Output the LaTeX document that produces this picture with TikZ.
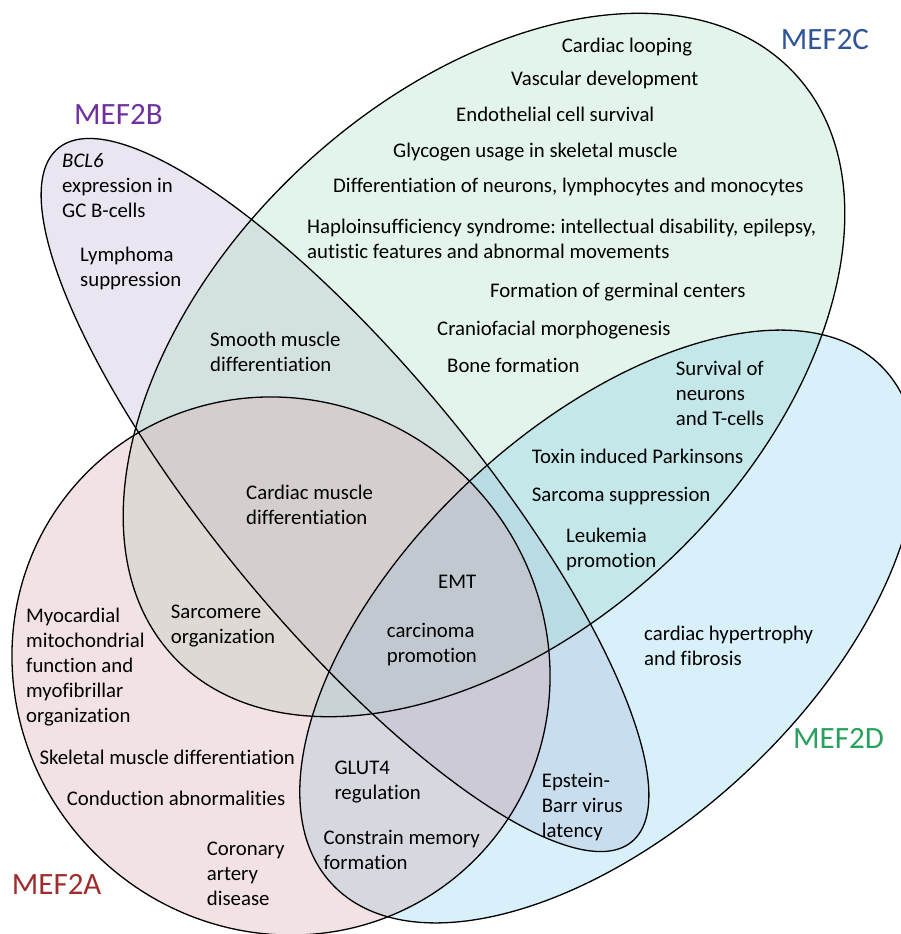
\documentclass[tikz,border=0pt]{standalone}
\usepackage{fontspec}
\setmainfont{Carlito}[Ligatures=NoCommon]
\usepackage{tikz}
\usetikzlibrary{calc}
\definecolor{mefAfill}{RGB}{212,158,162}
\definecolor{mefBfill}{RGB}{182,172,208}
\definecolor{mefCfill}{RGB}{162,218,188}
\definecolor{mefDfill}{RGB}{125,205,235}
\definecolor{mefAtext}{RGB}{158,45,45}
\definecolor{mefBtext}{RGB}{112,48,160}
\definecolor{mefCtext}{RGB}{47,85,151}
\definecolor{mefDtext}{RGB}{41,160,93}
\def\vennshape[#1](#2)(#3:#4:#5){\path[#1, shift={(#2)}, rotate=#3] (0,0) ellipse [x radius=#4pt, y radius=#5pt];}
\tikzset{
  setfill/.style={fill=#1, fill opacity=0.3},
  setline/.style={draw=black, line width=1.3pt},
  item/.style={anchor=base west, inner sep=0pt, align=left, font=\fontsize{20.8}{25}\selectfont},
  setname/.style={anchor=base west, inner sep=0pt, font=\fontsize{31}{37}\selectfont, text=#1},
}
\frenchspacing

\begin{document}
\begin{tikzpicture}[x=1pt, y=1pt]
	%%%%% START %%%%%
	\useasboundingbox (0,0) rectangle (900,-934);
	
	\coordinate (A) at (281,-666);
	\coordinate (B) at (345,-495);
	\coordinate (C) at (484,-365);
	\coordinate (D) at (608,-626.5);
	
	% fills first (B, C, D, A), outlines on top
	\vennshape[setfill=mefBfill](B)(-50.4:450:130)
	\vennshape[setfill=mefCfill](C)(43.3:426:269)
	\vennshape[setfill=mefDfill](D)(43:377.5:200.7)
	\vennshape[setfill=mefAfill](A)(-45:274:264)
	
	\vennshape[setline](B)(-50.4:450:130)
	\vennshape[setline](C)(43.3:426:269)
	\vennshape[setline](D)(43:377.5:200.7)
	\vennshape[setline](A)(-45:274:264)
	
	% MEF2C (multi-line nodes sit on their last baseline)
	\node[item] (looping) at (561.7,-52.7) {Cardiac looping};
	\node[item] (vascular) at (511,-85.5) {Vascular development};
	\node[item] (endothelial) at (456,-121.7) {Endothelial cell survival};
	\node[item] (glycogen) at (393,-157) {Glycogen usage in skeletal muscle};
	\node[item] (neurons) at (333,-192.7) {Differentiation of neurons, lymphocytes and monocytes};
	\node[item] (haplo) at (307,-258) {Haploinsufficiency syndrome: intellectual disability, epilepsy,\\autistic features and abnormal movements};
	\node[item] (germinal) at (490,-297) {Formation of germinal centers};
	\node[item] (craniofacial) at (437,-335) {Craniofacial morphogenesis};
	\node[item] (bone) at (447,-372.7) {Bone formation};
	
	% MEF2C and MEF2D
	\node[item] (survival) at (675.7,-425) {Survival of\\neurons\\and T-cells};
	\node[item] (parkinsons) at (531.7,-463) {Toxin induced Parkinsons};
	\node[item] (sarcoma) at (531.7,-501) {Sarcoma suppression};
	\node[item] (leukemia) at (566,-567) {Leukemia\\promotion};
	
	% MEF2D
	\node[item] (hypertrophy) at (644,-665) {cardiac hypertrophy\\and fibrosis};
	\node[item] (ebv) at (541.7,-837) {Epstein-\\Barr virus\\latency};
	
	% MEF2B
	\node[item] (bcl) at (62,-217.7) {\textit{BCL6}\\expression in\\GC B-cells};
	\node[item] (lymphoma) at (80,-286.7) {Lymphoma\\suppression};
	\node[item] (smooth) at (210,-371.7) {Smooth muscle\\differentiation};
	
	% centre
	\node[item] (cardiacmuscle) at (246,-524.5) {Cardiac muscle\\differentiation};
	\node[item] (emt) at (438,-588.7) {EMT};
	\node[item] (carcinoma) at (386.7,-662) {carcinoma\\promotion};
	\node[item] (sarcomere) at (170.7,-643) {Sarcomere\\organization};
	
	% MEF2A
	\node[item] (myocardial) at (26,-722.7) {Myocardial\\mitochondrial\\function and\\myofibrillar\\organization};
	\node[item] (skeletal) at (39.3,-764.3) {Skeletal muscle differentiation};
	\node[item] (conduction) at (66.7,-805.3) {Conduction abnormalities};
	\node[item] (coronary) at (206.7,-905.3) {Coronary\\artery\\disease};
	\node[item] (glut) at (334.3,-799.7) {GLUT4\\regulation};
	\node[item] (memory) at (323.3,-869.7) {Constrain memory\\formation};
	
	% set names
	\node[setname=mefAtext] (mefA) at (11.7,-894.7) {MEF2A};
	\node[setname=mefBtext] (mefB) at (74,-124) {MEF2B};
	\node[setname=mefCtext] (mefC) at (780.7,-50) {MEF2C};
	\node[setname=mefDtext] (mefD) at (793,-748.7) {MEF2D};
	
	%%%%% END %%%%%
\end{tikzpicture}
\end{document}
